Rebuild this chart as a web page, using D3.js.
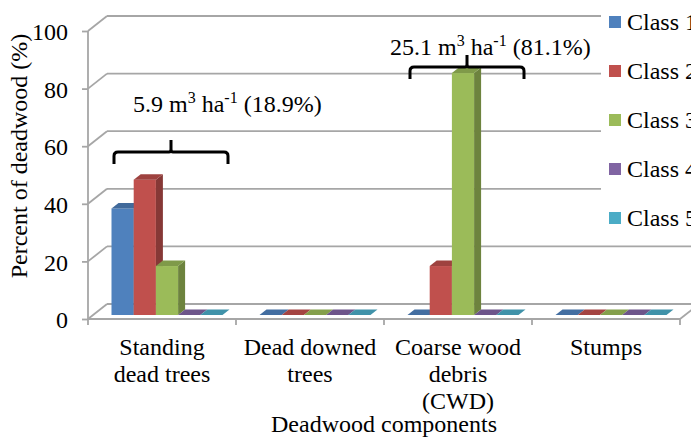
<!DOCTYPE html>
<html>
<head>
<meta charset="utf-8">
<script src="https://cdn.jsdelivr.net/npm/d3@7"></script>
<style>
  html, body { margin: 0; padding: 0; background: #fff; }
  svg { display: block; font-family: "Liberation Serif", "Times New Roman", serif; }
</style>
</head>
<body>
<svg id="chart" width="691" height="437"></svg>
<script>
// Deadwood decay classes by component (% of deadwood)
const categories = ["Standing dead trees", "Dead downed trees", "Coarse wood debris (CWD)", "Stumps"];
const categoryLines = [["Standing", "dead trees"], ["Dead downed", "trees"], ["Coarse wood", "debris", "(CWD)"], ["Stumps"]];
const classes = ["Class 1", "Class 2", "Class 3", "Class 4", "Class 5"];
const classColors = ["#4F81BD", "#C0504D", "#9BBB59", "#8064A2", "#4BACC6"];
const class1 = [37, 0, 0, 0];
const class2 = [47, 0, 17, 0];
const class3 = [17, 0, 84, 0];
const class4 = [0, 0, 0, 0];
const class5 = [0, 0, 0, 0];
const yTicks = [0, 20, 40, 60, 80, 100];
const volumeNotes = [
  { category: "Standing dead trees", main: "5.9 m", unit: "3", mid: " ha", exp: "-1", tail: " (18.9%)" },
  { category: "Coarse wood debris (CWD)", main: "25.1 m", unit: "3", mid: " ha", exp: "-1", tail: " (81.1%)" }
];

const series = [class1, class2, class3, class4, class5];
const rows = categories.map((c, i) => ({ category: c, values: classes.map((k, j) => ({ cls: k, value: series[j][i], color: classColors[j] })) }));

const svg = d3.select("#chart");
const FONT = 24;
const gridColor = "#a6a6a6";

// plot frame (front plane) and 3D depth of the walls
const x0 = d3.scaleBand().domain(categories).range([88, 680]);
const y = d3.scaleLinear().domain([0, 100]).range([319, 31]);
const DX = 19, DY = -15;           // full wall depth
const BX = 5, BY = -4;             // front face of the bars
const SX = 7, SY = -5.5;           // bar depth
const x1 = d3.scaleBand().domain(classes).range([18.5, 129.5]);

// back wall gridlines and side-wall diagonals
const grid = svg.append("g").attr("stroke", gridColor).attr("stroke-width", 1.8).attr("fill", "none");
grid.selectAll("line.back").data(yTicks).join("line")
  .attr("x1", x0.range()[0] + DX).attr("x2", x0.range()[1] + DX)
  .attr("y1", d => y(d) + DY).attr("y2", d => y(d) + DY);
grid.selectAll("line.side").data(yTicks).join("line")
  .attr("x1", x0.range()[0]).attr("x2", x0.range()[0] + DX)
  .attr("y1", d => y(d)).attr("y2", d => y(d) + DY);

// floor front edge, right-hand diagonal and category ticks
grid.append("line").attr("x1", x0.range()[0]).attr("x2", x0.range()[1]).attr("y1", y(0)).attr("y2", y(0));
grid.append("line").attr("x1", x0.range()[1]).attr("x2", x0.range()[1] + DX).attr("y1", y(0)).attr("y2", y(0) + DY);
const bounds = categories.map(c => x0(c)).concat([x0.range()[1]]);
grid.selectAll("line.ctick").data(bounds).join("line")
  .attr("x1", d => d).attr("x2", d => d).attr("y1", y(0)).attr("y2", y(0) + 6);

// value axis
const yAxis = svg.append("g").attr("transform", `translate(${x0.range()[0]},0)`)
  .call(d3.axisLeft(y).tickValues(yTicks).tickSize(6).tickPadding(14).tickFormat(d3.format("d")));
yAxis.select(".domain").attr("stroke", gridColor).attr("stroke-width", 1.8).attr("d", `M0,${y(0)}V${y(100)}`);
yAxis.selectAll(".tick line").attr("stroke", gridColor).attr("stroke-width", 1.8);
yAxis.selectAll(".tick text").attr("font-size", FONT).attr("fill", "#000")
  .attr("font-family", "Liberation Serif, Times New Roman, serif").attr("dy", "0.36em");

// 3D columns
const bars = svg.append("g");
rows.forEach(row => {
  row.values.forEach(d => {
    const xl = x0(row.category) + x1(d.cls) + BX;
    const xr = xl + x1.bandwidth();
    const base = y(0) + BY;
    const top = y(d.value) + BY;
    const c = d3.color(d.color);
    const g = bars.append("g");
    if (d.value > 0) {
      g.append("rect").attr("x", xl).attr("y", top).attr("width", xr - xl).attr("height", base - top).attr("fill", d.color);
      g.append("path").attr("fill", c.darker(1.0))
        .attr("d", `M${xr},${top}L${xr + SX},${top + SY}L${xr + SX},${base + SY}L${xr},${base}Z`);
    }
    g.append("path").attr("fill", c.darker(d.value > 0 ? 0.55 : 0.45))
      .attr("d", `M${xl},${top}L${xr},${top}L${xr + SX},${top + SY}L${xl + SX},${top + SY}Z`);
  });
});

// category labels
const catLabels = svg.append("g").attr("font-size", FONT).attr("text-anchor", "middle").attr("fill", "#000");
categories.forEach((c, i) => {
  const t = catLabels.append("text").attr("x", x0(c) + x0.bandwidth() / 2).attr("y", 355);
  categoryLines[i].forEach((line, k) => {
    t.append("tspan").attr("x", x0(c) + x0.bandwidth() / 2).attr("dy", k === 0 ? 0 : 27).text(line);
  });
});

// axis titles
svg.append("text").attr("x", (x0.range()[0] + x0.range()[1]) / 2).attr("y", 432)
  .attr("text-anchor", "middle").attr("font-size", FONT).text("Deadwood components");
svg.append("text").attr("transform", "translate(27,156) rotate(-90)")
  .attr("text-anchor", "middle").attr("font-size", FONT).text("Percent of deadwood (%)");

// braces with volume notes
const notePos = [
  { brace: 58, text: 72, dx: 45 },
  { brace: 87.5, text: 91.7, dx: 6 }
];
volumeNotes.forEach((n, i) => {
  const p = notePos[i];
  const xa = x0(n.category) + 26, xb = x0(n.category) + 140, xc = (xa + xb) / 2;
  const yb = y(p.brace);
  const path = `M${xa},${yb + 12}L${xa},${yb + 4}Q${xa},${yb} ${xa + 4},${yb}L${xc - 2},${yb}Q${xc},${yb} ${xc},${yb - 3}L${xc},${yb - 12}` +
               `M${xc},${yb - 3}Q${xc},${yb} ${xc + 2},${yb}L${xb - 4},${yb}Q${xb},${yb} ${xb},${yb + 4}L${xb},${yb + 12}`;
  svg.append("path").attr("d", path).attr("fill", "none").attr("stroke", "#000").attr("stroke-width", 3);
  const t = svg.append("text").attr("x", x0(n.category) + p.dx).attr("y", y(p.text)).attr("font-size", FONT);
  t.append("tspan").text(n.main);
  t.append("tspan").attr("font-size", 16).attr("dy", -9).text(n.unit);
  t.append("tspan").attr("dy", 9).text(n.mid);
  t.append("tspan").attr("font-size", 16).attr("dy", -9).text(n.exp);
  t.append("tspan").attr("dy", 9).text(n.tail);
});

// legend
const legend = svg.append("g");
legend.append("rect").attr("x", 601).attr("y", 0).attr("width", 90).attr("height", 238).attr("fill", "#fff");
const item = legend.selectAll("g.item").data(classes).join("g")
  .attr("transform", (d, i) => `translate(609,${22 + i * 49})`);
item.append("rect").attr("x", 0).attr("y", -6).attr("width", 12).attr("height", 12).attr("fill", (d, i) => classColors[i]);
item.append("text").attr("x", 18).attr("dy", "0.35em").attr("font-size", FONT).text(d => d);
</script>
</body>
</html>
